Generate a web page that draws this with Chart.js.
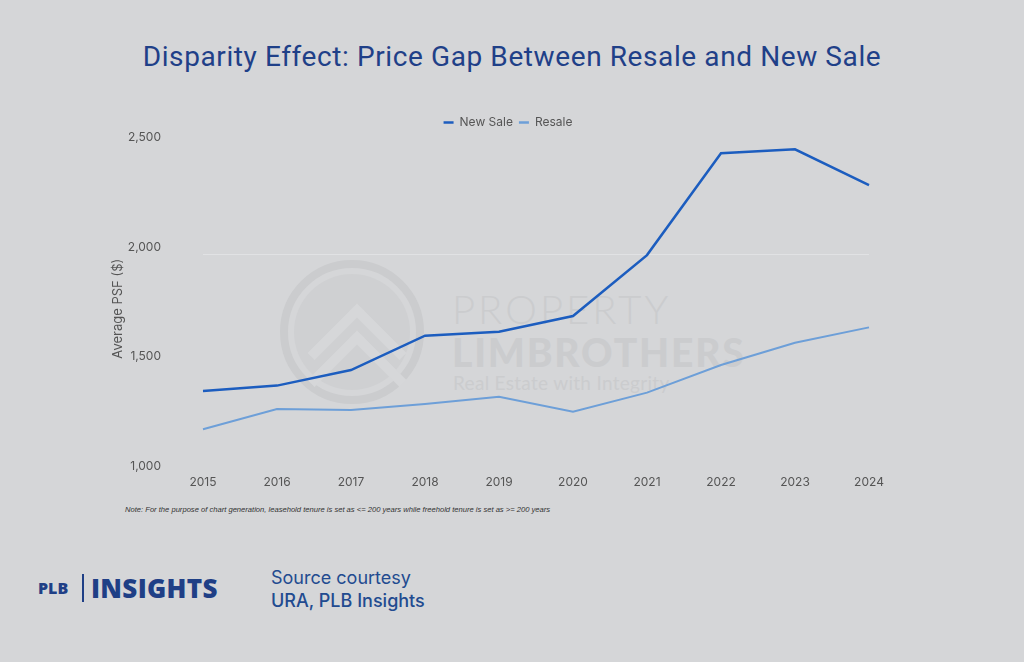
<!DOCTYPE html>
<html>
<head>
<meta charset="utf-8">
<script src="https://cdn.jsdelivr.net/npm/chart.js@4.4.1/dist/chart.umd.min.js"></script>
<style>
  html, body { margin:0; padding:0; }
  body { width:1024px; height:662px; background:#d5d6d8; position:relative; overflow:hidden; font-family: Roboto, "Liberation Sans", sans-serif; }
  #title { position:absolute; left:0; width:1024px; top:40px; text-align:center; font-family:Roboto, sans-serif; font-size:28px; letter-spacing:0.6px; color:#1f4088; white-space:nowrap; }
  #chartWrap { position:absolute; left:0; top:100px; width:1024px; height:400px; }
  #note { position:absolute; left:125px; top:505px; font-family:"Liberation Sans", Arial, sans-serif; font-style:italic; font-size:7.6px; color:#333; white-space:nowrap; }
  #logo { position:absolute; left:38px; top:570px; color:#1f3f86; font-family:"Open Sans", sans-serif; font-weight:800; white-space:nowrap; }
  #logo .plb { position:absolute; left:0; top:7px; font-size:16px; }
  #logo .bar { position:absolute; left:44px; top:4px; width:2px; height:28px; background:#1f3f86; }
  #logo .ins { position:absolute; left:53px; top:0px; font-size:26px; letter-spacing:0.3px; }
  #src { position:absolute; left:271px; top:566px; color:#224b90; font-family:Inter, sans-serif; white-space:nowrap; line-height:23px; }
  #src .l1 { font-size:18px; font-weight:400; }
  #src .l2 { font-size:18px; font-weight:500; }
  #wm { position:absolute; left:0; top:0; width:1024px; height:662px; pointer-events:none; }
  #ring { position:absolute; left:280px; top:260px; width:128px; height:128px; border:8px solid #cbccce; border-radius:50%; }
  #disc { position:absolute; left:294px; top:274px; width:116px; height:116px; border-radius:50%; background:#cfd0d2; }
  .chev { position:absolute; width:60px; height:60px; border-left:10px solid #d6d7d9; border-top:10px solid #d6d7d9; transform:rotate(45deg); }
  #wmt1 { position:absolute; left:452px; top:285px; font-family:Lato, sans-serif; font-weight:300; font-size:40px; color:#cbccce; letter-spacing:3px; }
  #wmt2 { position:absolute; left:452px; top:329px; font-family:Lato, sans-serif; font-weight:900; font-size:39px; color:#cbccce; letter-spacing:1.8px; }
  #wmt3 { position:absolute; left:453px; top:371px; font-family:Lato, sans-serif; font-weight:400; font-size:19px; color:#cbccce; letter-spacing:0.3px; }
</style>
</head>
<body>
<div id="wm">
  <div id="disc"></div>
  <div id="ring"></div>
  <div class="chev" style="left:322px; top:318px;"></div>
  <div class="chev" style="left:322px; top:345px;"></div>
  <div id="wmt1">PROPERTY</div>
  <div id="wmt2">LIMBROTHERS</div>
  <div id="wmt3">Real Estate with Integrity</div>
</div>
<div id="title">Disparity Effect: Price Gap Between Resale and New Sale</div>
<div id="chartWrap"><canvas id="c" width="1024" height="400"></canvas></div>
<div id="note">Note: For the purpose of chart generation, leasehold tenure is set as &lt;= 200 years while freehold tenure is set as &gt;= 200 years</div>
<div id="logo"><span class="plb">PLB</span><span class="bar"></span><span class="ins">INSIGHTS</span></div>
<div id="src"><div class="l1">Source courtesy</div><div class="l2">URA, PLB Insights</div></div>
<script>
const years = ['2015','2016','2017','2018','2019','2020','2021','2022','2023','2024'];
const newSale = [1374, 1399, 1470, 1627, 1645, 1717, 1995, 2460, 2478, 2315];
const resale  = [1200, 1292, 1288, 1315, 1348, 1280, 1367, 1493, 1595, 1665];
const yTicks = [1000, 1500, 2000, 2500];

const newColor = '#1c5dbf';
const resColor = '#6d9fd8';
const tickFont = { family: 'Inter', size: 12 };

const legendGap = {
  id: 'legendGap',
  afterInit(chart) {
    const lg = chart.legend;
    if (!lg) return;
    const orig = lg.fit.bind(lg);
    lg.fit = function() { orig(); this.height += 6; };
  }
};

new Chart(document.getElementById('c'), {
  type: 'line',
  data: {
    labels: years,
    datasets: [
      { label: 'New Sale', data: newSale, borderColor: newColor, backgroundColor: newColor, borderWidth: 2.5, pointRadius: 0, tension: 0 },
      { label: 'Resale', data: resale, borderColor: resColor, backgroundColor: resColor, borderWidth: 2, pointRadius: 0, tension: 0 }
    ]
  },
  options: {
    responsive: false,
    animation: false,
    layout: { padding: { top: 10.5, left: 0, right: 8, bottom: 0 } },
    plugins: {
      tooltip: { enabled: false },
      legend: {
        display: true,
        position: 'top',
        labels: {
          boxWidth: 10, boxHeight: 2.5, padding: 6,
          color: '#555', font: tickFont,
          generateLabels(chart) {
            return chart.data.datasets.map((ds, i) => ({
              text: ds.label, fillStyle: ds.borderColor, strokeStyle: ds.borderColor,
              lineWidth: 0, hidden: false, datasetIndex: i, fontColor: '#555'
            }));
          }
        }
      }
    },
    scales: {
      x: {
        type: 'category',
        offset: false,
        grid: { display: false, drawTicks: false },
        border: { display: false },
        ticks: { color: '#555', font: tickFont, padding: 2, maxRotation: 0, autoSkip: false },
        afterFit(s) { s.height = 27; }
      },
      y: {
        min: 1000, max: 2500,
        afterBuildTicks(s) { s.ticks = yTicks.map(v => ({ value: v })); },
        grid: {
          drawTicks: true,
          tickLength: 38,
          tickColor: 'rgba(0,0,0,0)',
          color: (ctx) => (ctx.tick && ctx.tick.value === 2000) ? 'rgba(235,236,238,0.55)' : 'rgba(0,0,0,0)',
          lineWidth: 1
        },
        border: { display: false },
        ticks: {
          color: '#555', font: tickFont, padding: 4, labelOffset: -7,
          callback: (v) => Number(v).toLocaleString('en-US')
        },
        title: { display: true, text: 'Average PSF ($)', color: '#555', font: { family: 'Inter', size: 13 }, padding: { top: 110, bottom: 0 } },
        afterFit(s) { s.width = 203; }
      },
      y2: {
        position: 'right',
        display: true,
        min: 1000, max: 2500,
        grid: { display: false, drawTicks: false },
        border: { display: false },
        ticks: { display: false },
        afterFit(s) { s.width = 147; }
      }
    }
  },
  plugins: [legendGap]
});
</script>
</body>
</html>
